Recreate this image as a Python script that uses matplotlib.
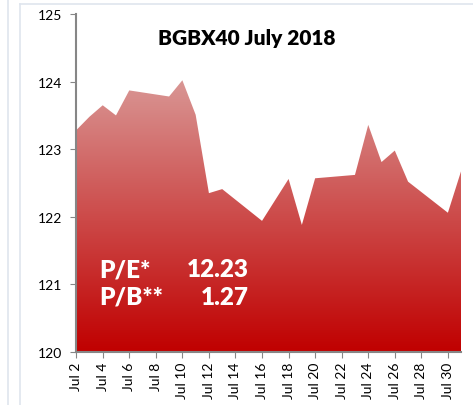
import numpy as np
import matplotlib.pyplot as plt
from matplotlib.colors import LinearSegmentedColormap
from matplotlib.patches import Polygon
from matplotlib.lines import Line2D

plt.rcParams['font.family'] = ['Lato', 'DejaVu Sans']

# BGBX40 closing values, July 2018 (trading days only)
days = [2, 3, 4, 5, 6, 9, 10, 11, 12, 13, 16, 17, 18, 19, 20,
        23, 24, 25, 26, 27, 30, 31]
values = [123.28, 123.48, 123.65, 123.50, 123.87, 123.78, 124.02, 123.51,
          122.35, 122.41, 121.94, 122.25, 122.56, 121.88, 122.57,
          122.62, 123.36, 122.81, 122.98, 122.52, 122.06, 122.68]
tick_days = list(range(2, 31, 2))
tick_labels = [f'Jul {d}' for d in tick_days]
pe_ratio = '12.23'
pb_ratio = '1.27'

fig = plt.figure(figsize=(4.73, 4.06), dpi=100)
ax = fig.add_axes([0.161, 0.1305, 0.814, 0.8325])

ymin, ymax = 120, 125

# gradient fill clipped to area under the line
cmap = LinearSegmentedColormap.from_list('red', ['#c00000', '#d99694'])
grad = np.linspace(0, 1, 256).reshape(-1, 1)
img = ax.imshow(grad, extent=[days[0], days[-1], ymin, max(values)],
                origin='lower', aspect='auto', cmap=cmap, zorder=1)
verts = list(zip(days, values)) + [(days[-1], ymin), (days[0], ymin)]
poly = Polygon(verts, closed=True, facecolor='none', edgecolor='none')
ax.add_patch(poly)
img.set_clip_path(poly)

ax.set_xlim(days[0], days[-1])
ax.set_ylim(ymin, ymax)
ax.set_yticks(range(120, 126))
ax.set_xticks(tick_days)
ax.set_xticklabels(tick_labels, rotation=90)
ax.tick_params(axis='both', labelsize=10, color='#868686', length=4)
ax.tick_params(axis='y', pad=6)
ax.tick_params(axis='x', pad=3)

for s in ['top', 'right']:
    ax.spines[s].set_visible(False)
for s in ['left', 'bottom']:
    ax.spines[s].set_color('#868686')
    ax.spines[s].set_linewidth(1.5)
    ax.spines[s].set_zorder(3)

ax.text(0.444, 0.93, 'BGBX40 July 2018', transform=ax.transAxes,
        ha='center', va='center', fontsize=15, fontweight='heavy')

ax.text(0.06, 0.245, 'P/E*', transform=ax.transAxes, color='white',
        fontsize=17.5, fontweight='heavy', va='center', zorder=4)
ax.text(0.448, 0.245, pe_ratio, transform=ax.transAxes, color='white',
        fontsize=17.5, fontweight='heavy', va='center', ha='right', zorder=4)
ax.text(0.06, 0.163, 'P/B**', transform=ax.transAxes, color='white',
        fontsize=17.5, fontweight='heavy', va='center', zorder=4)
ax.text(0.448, 0.163, pb_ratio, transform=ax.transAxes, color='white',
        fontsize=17.5, fontweight='heavy', va='center', ha='right', zorder=4)

# light frame lines of the surrounding layout
frame = '#dfe5ee'
fig.add_artist(Line2D([8 / 473, 8 / 473], [0, 1], color=frame, lw=1.2))
fig.add_artist(Line2D([20 / 473, 20 / 473], [0, 1 - 5 / 406], color=frame, lw=1.2))
fig.add_artist(Line2D([20 / 473, 1], [1 - 5 / 406, 1 - 5 / 406], color=frame, lw=1.2))

fig.savefig('out.png', dpi=100)
